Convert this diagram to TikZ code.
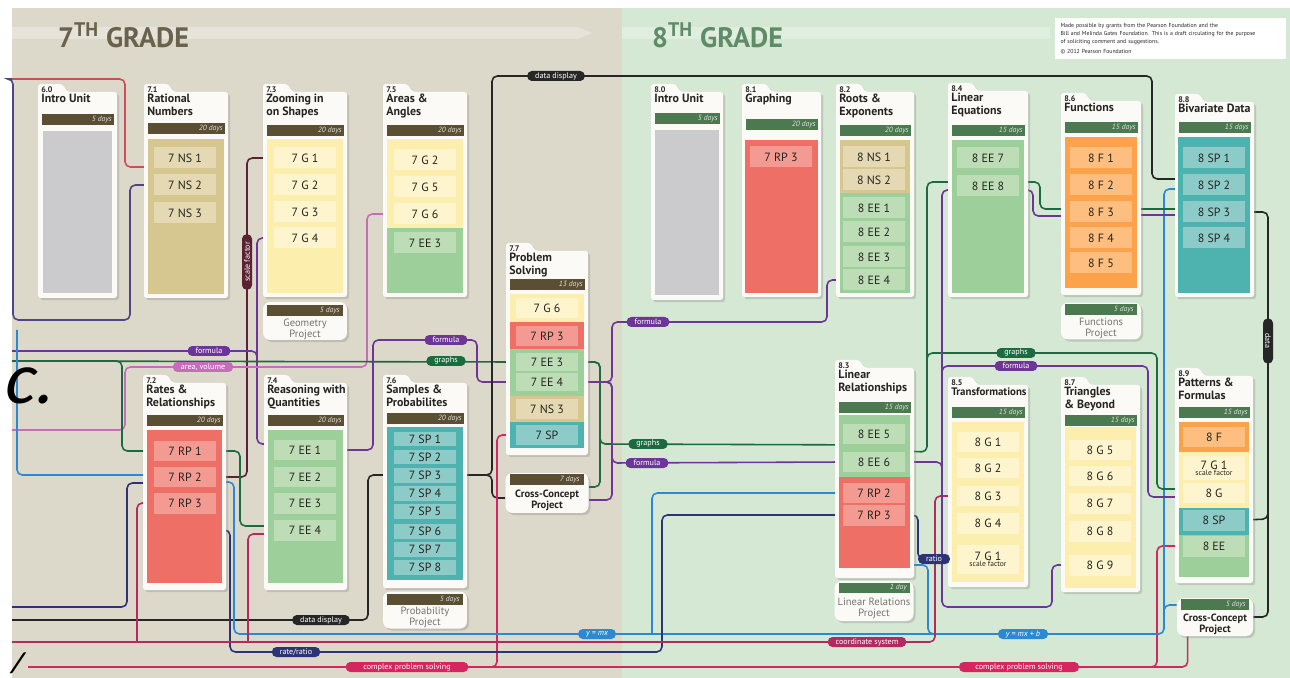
\documentclass[tikz,border=0pt]{standalone}
\usepackage{fontspec}
\setmainfont{PT Sans}
\newfontfamily\slidefont{Carlito}[FakeSlant=0.2]
\usetikzlibrary{calc,shadows}
\definecolor{ink}{HTML}{262420}
\definecolor{bgseven}{HTML}{DCD8CA}
\definecolor{bgeight}{HTML}{D4E8D3}
\definecolor{hdseven}{HTML}{6A624C}
\definecolor{hdeight}{HTML}{5F8B67}
\definecolor{bseven}{HTML}{5B4F33}
\definecolor{beight}{HTML}{4B7A50}
\definecolor{cardw}{HTML}{FBFAF6}
\definecolor{grayb}{HTML}{CBCBCD}
\definecolor{tan}{HTML}{D6C791}
\definecolor{tanl}{HTML}{E4D9B2}
\definecolor{yel}{HTML}{FCEEAD}
\definecolor{yell}{HTML}{FEF5CE}
\definecolor{grn}{HTML}{9CCF99}
\definecolor{grnl}{HTML}{BDDDB6}
\definecolor{red}{HTML}{EE6F66}
\definecolor{redl}{HTML}{F39B92}
\definecolor{teal}{HTML}{4EB2AE}
\definecolor{teall}{HTML}{8DCBC8}
\definecolor{org}{HTML}{FBA24B}
\definecolor{orgl}{HTML}{FDBE80}
\definecolor{cblack}{HTML}{262626}
\definecolor{cscale}{HTML}{5A2233}
\definecolor{cpurple}{HTML}{6C3596}
\definecolor{cpink}{HTML}{C66DBA}
\definecolor{cgreen}{HTML}{1C6B40}
\definecolor{cnavy}{HTML}{2E3375}
\definecolor{cblue}{HTML}{2C89CF}
\definecolor{ccrim}{HTML}{D62660}
\definecolor{cmaroon}{HTML}{B02C60}
\definecolor{cred}{HTML}{C8505A}
\definecolor{cviolet}{HTML}{4E4588}

\pgfdeclarelayer{back}
\pgfdeclarelayer{wires}
\pgfsetlayers{back,wires,main}

% unit card: x0, x1, tab top, bottom, number, title, bar top, days, name
\newcommand\unitcard[9]{%
  \path[card] (#1,#4) -- (#1,#3) -- (#1+24,#3) -- (#1+30,#3+8) -- (#2,#3+8) -- (#2,#4) -- cycle;
  \node[unitnum,anchor=north west] (#9num) at (#1+3,#3+2) {#5};
  \node[unittitle,anchor=north west] (#9title) at (#1+3,#3+10) {#6};
  \fill[barc] (#1+4,#7) rectangle (#2-3,#7+11);
  \node[days,anchor=east] (#9days) at (#2-5,#7+5.5) {#8};
}

\begin{document}
\begin{tikzpicture}[x=0.02cm, y=-0.02cm,
  card/.style={fill=cardw, rounded corners=1.5pt,
    drop shadow={shadow xshift=1.2pt, shadow yshift=-1.2pt, opacity=.3}},
  proj/.style={fill=cardw, rounded corners=4pt, inner sep=0pt,
    drop shadow={shadow xshift=1.2pt, shadow yshift=-1.2pt, opacity=.3}},
  unitnum/.style={font=\fontsize{4.6}{5}\selectfont\bfseries, inner sep=0pt, text=ink},
  unittitle/.style={font=\fontsize{6.8}{7.2}\selectfont\bfseries, align=left, inner sep=0pt, text=ink},
  days/.style={font=\fontsize{4.3}{5}\selectfont\itshape, text=white!88!black, inner sep=0pt},
  std/.style={minimum width=1.24cm, minimum height=0.42cm, inner sep=0pt,
    font=\fontsize{6.8}{6}\selectfont, text=ink, align=center},
  projtext/.style={font=\fontsize{6}{6.2}\selectfont, align=center, text=black!55, inner sep=0pt},
  cctext/.style={font=\fontsize{6}{6.2}\selectfont\bfseries, align=center, text=ink, inner sep=0pt},
  pill/.style={rounded corners=2.6pt, text=white, font=\fontsize{4.6}{5}\selectfont,
    inner xsep=4.5pt, inner ysep=0pt, minimum height=0.2cm},
  wire/.style={line width=.9pt, rounded corners=3pt}
]
\useasboundingbox (0,0) rectangle (1290,678);
\begin{pgfonlayer}{back}
  \fill[white] (0,0) rectangle (1290,678);
  \fill[bgseven] (12,8) rectangle (622,678);
  \fill[bgeight] (622,8) rectangle (1290,678);
  \fill[white,opacity=.3] (12,27) -- (578,27) -- (592,33) -- (578,39) -- (12,39) -- cycle;
  \fill[white,opacity=.3] (622,27) -- (1050,27) -- (1050,39) -- (622,39) -- cycle;
\end{pgfonlayer}

\node[font=\fontsize{16}{16}\selectfont\bfseries, text=hdseven, anchor=base west] (head7) at (52,48) {7\textsuperscript{TH} GRADE};
\node[font=\fontsize{16}{16}\selectfont\bfseries, text=hdeight, anchor=base west] (head8) at (646,48) {8\textsuperscript{TH} GRADE};
\node[fill=white, anchor=north west, text width=4.4cm, inner xsep=3pt, inner ysep=3pt, align=left,
  font=\fontsize{3.3}{4.5}\selectfont, text=ink] (note) at (1055,18)
  {Made possible by grants from the Pearson Foundation and the\\
   Bill and Melinda Gates Foundation. This is a draft circulating for the purpose\\
   of soliciting comment and suggestions.\\[1pt]
   © 2012 Pearson Foundation};

% 7th grade
\colorlet{barc}{bseven}
\unitcard{38}{117}{84}{298}{6.0}{Intro Unit}{114}{5 days}{uisix}
\fill[grayb] (43,131) rectangle (112,293);

\unitcard{144}{228}{84}{298}{7.1}{Rational\\Numbers}{123}{20 days}{uone}
\fill[tan] (148,139) rectangle (224,294);
\foreach \n/\y in {1/158,2/185,3/213}
  \node[std,fill=tanl] (ns\n) at (185,\y) {7 NS \n};

\unitcard{263}{347}{84}{297}{7.3}{Zooming in\\on Shapes}{125}{20 days}{uthree}
\fill[yel] (267,139) rectangle (343,293);
\foreach \n/\y in {1/158,2/185,3/212,4/238}
  \node[std,fill=yell] (zg\n) at (305,\y) {7 G \n};
\node[proj,minimum width=1.68cm,minimum height=0.76cm] (geo) at (305,321) {};
\fill[barc] (267,305) rectangle (343,316);
\node[days,anchor=east] (geodays) at (340,310.5) {5 days};
\node[projtext] (geotext) at (305,329) {Geometry\\Project};

\unitcard{383}{467}{84}{297}{7.5}{Areas \&\\Angles}{125}{20 days}{ufive}
\fill[yel] (387,139) rectangle (463,228);
\fill[grn] (387,228) rectangle (463,293);
\node[std,fill=yell] (ag2) at (425,160) {7 G 2};
\node[std,fill=yell] (ag5) at (425,187) {7 G 5};
\node[std,fill=yell] (ag6) at (425,214) {7 G 6};
\node[std,fill=grnl] (aee3) at (425,243) {7 EE 3};

\unitcard{506}{588}{243}{455}{7.7}{Problem\\Solving}{279}{13 days}{useven}
\fill[yel] (510,294) rectangle (584,322);
\fill[red] (510,322) rectangle (584,349);
\fill[grn] (510,349) rectangle (584,396);
\fill[tan] (510,396) rectangle (584,422);
\fill[teal] (510,422) rectangle (584,448);
\node[std,fill=yell] (pg6) at (547,308) {7 G 6};
\node[std,fill=redl] (prp3) at (547,336) {7 RP 3};
\node[std,fill=grnl,minimum height=0.36cm] (pee3) at (547,362) {7 EE 3};
\node[std,fill=grnl,minimum height=0.36cm] (pee4) at (547,382) {7 EE 4};
\node[std,fill=tanl] (pns3) at (547,409) {7 NS 3};
\node[std,fill=teall] (psp) at (547,435) {7 SP};
\node[proj,minimum width=1.66cm,minimum height=0.8cm] (cc7) at (547,493) {};
\fill[barc] (510,474) rectangle (584,485);
\node[days,anchor=east] (cc7days) at (580,479.5) {7 days};
\node[cctext] (cc7text) at (547,500) {Cross-Concept\\Project};

\unitcard{143}{226}{375}{590}{7.2}{Rates \&\\Relationships}{415}{20 days}{utwo}
\fill[red] (147,430) rectangle (222,583);
\foreach \n/\y in {1/451,2/477,3/503}
  \node[std,fill=redl] (rp\n) at (185,\y) {7 RP \n};
\coordinate (rb72) at (220,530);

\unitcard{264}{347}{375}{590}{7.4}{Reasoning with\\Quantities}{415}{20 days}{ufour}
\fill[grn] (268,430) rectangle (343,583);
\foreach \n/\y in {1/450,2/477,3/503,4/530}
  \node[std,fill=grnl] (qee\n) at (305,\y) {7 EE \n};

\unitcard{383}{467}{375}{588}{7.6}{Samples \&\\Probabilites}{413}{20 days}{usix}
\fill[teal] (387,427) rectangle (463,580);
\foreach \n/\y in {1/439,2/457,3/475,4/493,5/511,6/531,7/549,8/567}
  \node[std,fill=teall,minimum height=0.3cm] (sp\n) at (425,\y) {7 SP \n};
\node[proj,minimum width=1.68cm,minimum height=0.74cm] (prob) at (425,610) {};
\fill[barc] (387,594) rectangle (463,605);
\node[days,anchor=east] (probdays) at (460,599.5) {5 days};
\node[projtext] (probtext) at (425,617) {Probability\\Project};

% 8th grade
\colorlet{barc}{beight}
\unitcard{651}{723}{84}{300}{8.0}{Intro Unit}{113}{5 days}{veight}
\fill[grayb] (655,130) rectangle (719,295);

\unitcard{742}{821}{84}{297}{8.1}{Graphing}{119}{20 days}{vone}
\fill[red] (745,140) rectangle (818,293);
\node[std,fill=redl] (grp3) at (781,157) {7 RP 3};

\unitcard{836}{914}{84}{297}{8.2}{Roots \&\\Exponents}{125}{20 days}{vtwo}
\fill[tan] (840,140) rectangle (910,193);
\fill[grn] (840,193) rectangle (910,293);
\node[std,fill=tanl] (ns81) at (874,157) {8 NS 1};
\node[std,fill=tanl] (ns82) at (874,180) {8 NS 2};
\foreach \n/\y in {1/208,2/232,3/257,4/280}
  \node[std,fill=grnl] (ee8\n) at (874,\y) {8 EE \n};

\unitcard{948}{1028}{83}{297}{8.4}{Linear\\Equations}{125}{15 days}{vfour}
\fill[grn] (952,140) rectangle (1024,293);
\node[std,fill=grnl] (ee87) at (988,158) {8 EE 7};
\node[std,fill=grnl] (ee88) at (988,186) {8 EE 8};

\unitcard{1061}{1141}{93}{295}{8.6}{Functions}{122}{15 days}{vsix}
\fill[org] (1065,137) rectangle (1137,288);
\foreach \n/\y in {1/158,2/185,3/212,4/238,5/263}
  \node[std,fill=orgl] (f\n) at (1101,\y) {8 F \n};
\node[proj,minimum width=1.6cm,minimum height=0.74cm] (fun) at (1101,321) {};
\fill[barc] (1065,304) rectangle (1137,315);
\node[days,anchor=east] (fundays) at (1134,309.5) {5 days};
\node[projtext] (funtext) at (1101,328) {Functions\\Project};

\unitcard{1175}{1254}{94}{297}{8.8}{Bivariate Data}{122}{15 days}{veight8}
\fill[teal] (1178,137) rectangle (1250,293);
\foreach \n/\y in {1/158,2/185,3/212,4/238}
  \node[std,fill=teall] (bsp\n) at (1214,\y) {8 SP \n};

\unitcard{835}{914}{360}{578}{8.3}{Linear\\Relationships}{402}{15 days}{vthree}
\fill[grn] (839,415) rectangle (910,477);
\fill[red] (839,477) rectangle (910,568);
\node[std,fill=grnl] (lee5) at (874,434) {8 EE 5};
\node[std,fill=grnl] (lee6) at (874,462) {8 EE 6};
\node[std,fill=redl] (lrp2) at (874,493) {7 RP 2};
\node[std,fill=redl] (lrp3) at (874,515) {7 RP 3};
\coordinate (lr83e) at (907,565);
\node[proj,minimum width=1.58cm,minimum height=0.8cm] (lrproj) at (874,601) {};
\fill[barc] (839,583) rectangle (910,593);
\node[days,anchor=east] (lrdays) at (907,588) {1 day};
\node[projtext] (lrtext) at (874,608) {Linear Relations\\Project};

\unitcard{948}{1028}{377}{587}{8.5}{{\fontsize{6.2}{6.6}\selectfont Transformations}}{407}{15 days}{vfive}
\fill[yel] (952,422) rectangle (1024,582);
\foreach \n/\y in {1/442,2/468,3/496,4/523}
  \node[std,fill=yell] (tg\n) at (988,\y) {8 G \n};
\node[std,fill=yell,minimum height=0.58cm] (tsf) at (988,559) {7 G 1\\[-2.5pt]{\fontsize{4.3}{4}\selectfont scale factor}};

\unitcard{1061}{1140}{377}{592}{8.7}{Triangles\\\& Beyond}{415}{15 days}{vseven}
\fill[yel] (1065,427) rectangle (1136,588);
\foreach \n/\y in {5/450,6/476,7/503,8/531,9/565}
  \node[std,fill=yell] (bg\n) at (1100,\y) {8 G \n};

\unitcard{1175}{1253}{368}{583}{8.9}{Patterns \&\\Formulas}{407}{15 days}{vnine}
\fill[org] (1179,422) rectangle (1249,452);
\fill[yel] (1179,452) rectangle (1249,508);
\fill[teal] (1179,508) rectangle (1249,535);
\fill[grn] (1179,535) rectangle (1249,577);
\node[std,fill=orgl] (pf) at (1214,437) {8 F};
\node[std,fill=yell,minimum height=0.5cm] (psf) at (1214,468) {7 G 1\\[-2.5pt]{\fontsize{4.3}{4}\selectfont scale factor}};
\node[std,fill=yell] (pgg) at (1214,493) {8 G};
\node[std,fill=teall] (pspp) at (1214,520) {8 SP};
\node[std,fill=grnl] (pee) at (1214,546) {8 EE};
\node[proj,minimum width=1.52cm,minimum height=0.76cm] (cc8) at (1215,617) {};
\fill[barc] (1181,599) rectangle (1249,610);
\node[days,anchor=east] (cc8days) at (1246,604.5) {5 days};
\node[cctext] (cc8text) at (1215,624) {Cross-Concept\\Project};

% connector labels
\node[pill,fill=cblack] (dd1) at (556,76) {data display};
\node[pill,fill=cscale,rotate=90] (sf) at (247,262) {scale factor};
\node[pill,fill=cpurple] (fo1) at (209,351) {formula};
\node[pill,fill=cpink] (av) at (203,367) {area, volume};
\node[pill,fill=cpurple] (fo2) at (446,340) {formula};
\node[pill,fill=cgreen] (gr1) at (446,361) {graphs};
\node[pill,fill=cpurple] (fo3) at (648,322) {formula};
\node[pill,fill=cgreen] (gr2) at (648,444) {graphs};
\node[pill,fill=cpurple] (fo4) at (647,463) {formula};
\node[pill,fill=cblack] (dd2) at (321,620) {data display};
\node[pill,fill=cnavy] (rr) at (296,652) {rate/ratio};
\node[pill,fill=ccrim,minimum width=2.45cm] (cps1) at (407,667) {complex problem solving};
\node[pill,fill=cblue] (ymx) at (597,634) {\itshape y = mx};
\node[pill,fill=cmaroon] (cs) at (867,642) {coordinate system};
\node[pill,fill=cnavy] (ra) at (934,559) {ratio};
\node[pill,fill=cgreen] (gr3) at (1016,353) {graphs};
\node[pill,fill=cpurple] (fo5) at (1016,366) {formula};
\node[pill,fill=cblue] (ymxb) at (1023,634) {\itshape y = mx + b};
\node[pill,fill=ccrim,minimum width=2.4cm] (cps2) at (1019,667) {complex problem solving};
\node[pill,fill=cblack,rotate=-90,minimum width=0.9cm] (dt) at (1268,341) {data};

\coordinate (tl) at (12,79);
\coordinate (fl) at (12,351);
\coordinate (pl) at (12,430);
\coordinate (gl) at (12,361);
\coordinate (nl) at (12,607);
\coordinate (dl) at (12,620);
\coordinate (rl) at (12,642);
\coordinate (cl) at (28,667);
\coordinate (bl) at (17,330);

\begin{pgfonlayer}{wires}
  \draw[wire,cred] ($(ns1.west)+(0,9)$) -| (125,79) -- (tl);
  \draw[wire,cviolet] (ns2.west) -| (130,320) -| (13,79) -- (tl);
  \draw[wire,cscale] (zg1.west) -| (247,477) -- (rp2.east);
  \draw[wire,cgreen] (rp1.east) -| (240,526) -- ($(qee4.west)+(0,-4)$);
  \draw[wire,cpurple] (zg4.west) -| (257,444) -- ($(qee1.west)+(0,-6)$);
  \draw[wire,cpurple] (fl) -| (257,380);
  \draw[wire,cpink] (ag6.west) -| (367,367) -| (125,430) -- (pl);
  \draw[wire,cgreen] (gl) -- (pee3.west);
  \draw[wire,cgreen] (rp1.west) -| (122,361) -- (gl);
  \draw[wire,cpurple] (qee1.east) -| (373,340) -| (477,382) -- (pee4.west);
  \draw[wire,cblack] (sp3.east) -| (492,76) -| (1152,179) -- ($(bsp2.west)+(0,-6)$);
  \draw[wire,cblack] (sp3.east) -| (492,498) -- ($(cc7.west)+(0,5)$);
  \draw[wire,cblack] (sp3.west) -| (368,620) -- (dl);
  \draw[wire,ccrim] (psp.west) -| (497,667) -- (470,667);
  \draw[wire,ccrim] (pee.west) -| (1157,667) -- (cl);
  \draw[wire,ccrim] ($(cc8.south west)+(11,0)$) |- (1150,667);
  \draw[wire,cblue] ($(rp2.east)+(0,5)$) -| (234,634) -- (935,634);
  \draw[wire,cblue] (lrp2.west) -| (652,634);
  \draw[wire,cblue] ($(bsp2.west)+(0,4)$) -| (1164,634) -| (928,565) -- (lr83e);
  \draw[wire,cblue] ($(cc8.west)+(0,-12)$) -| (1164,625);
  \draw[wire,cblue] ($(rp2.west)+(0,-2)$) -| (bl);
  \draw[wire,cnavy] ($(rp2.west)+(0,6)$) -| (127,607) -- (nl);
  \draw[wire,cnavy] (rb72) -| (230,652) -| (662,515) -- (lrp3.west);
  \draw[wire,cnavy] (lrp3.east) -| (918,559) -- (tsf.west);
  \draw[wire,cmaroon] (tg3.west) -| (935,642) -- (rl);
  \draw[wire,cmaroon] (rp3.west) -| (137,642);
  \draw[wire,cmaroon] ($(qee4.west)+(0,4)$) -| (248,642);
  \draw[wire,cgreen] (pee3.east) -| (600,444) -- (lee5.south west);
  \draw[wire,cgreen] (pee3.east) -| (600,487) -- ($(cc7.east)+(0,-6)$);
  \draw[wire,cpurple] (pee4.east) -| (612,322) -| (827,280) -- (ee84.west);
  \draw[wire,cpurple] (pee4.east) -| (612,463) -- (lee6.west);
  \draw[wire,cpurple] (pee4.east) -| (612,500) -- ($(cc7.east)+(0,7)$);
  \draw[wire,cgreen] ($(ee88.west)+(0,-4)$) -| (927,452) -- (lee6.north east);
  \draw[wire,cgreen] ($(pgg.west)+(0,-4)$) -| (1157,353) -| (927,370);
  \draw[wire,cpurple] ($(ee88.west)+(0,4)$) -| (942,607) -| (1052,565) -- (bg9.west);
  \draw[wire,cpurple] ($(pgg.west)+(0,4)$) -| (1148,366) -| (942,380);
  \draw[wire,cpurple] (lee6.east) -| (942,470);
  \draw[wire,cgreen] ($(ee88.east)+(0,-4)$) -| (1040,209) -- ($(f3.west)+(0,-3)$);
  \draw[wire,cpurple] ($(ee88.east)+(0,4)$) -| (1033,216) -- ($(f3.west)+(0,4)$);
  \draw[wire,cgreen] ($(f3.east)+(0,-3)$) -- ($(bsp3.west)+(0,-3)$);
  \draw[wire,cpurple] ($(f3.east)+(0,3)$) -- ($(bsp3.west)+(0,3)$);
  \draw[wire,cblack] (bsp3.east) -| (1268,519) -- (pspp.east);
  \draw[wire,cblack] (cc8.east) -| (1268,500);
\end{pgfonlayer}

\node[font=\slidefont\fontsize{42}{42}\selectfont, anchor=base west, inner sep=0pt] (etc) at (2,403) {c.};
\node[font=\slidefont\bfseries\fontsize{16}{16}\selectfont, anchor=south west, inner sep=1pt] (slash) at (8,676) {/};
\end{tikzpicture}
\end{document}
